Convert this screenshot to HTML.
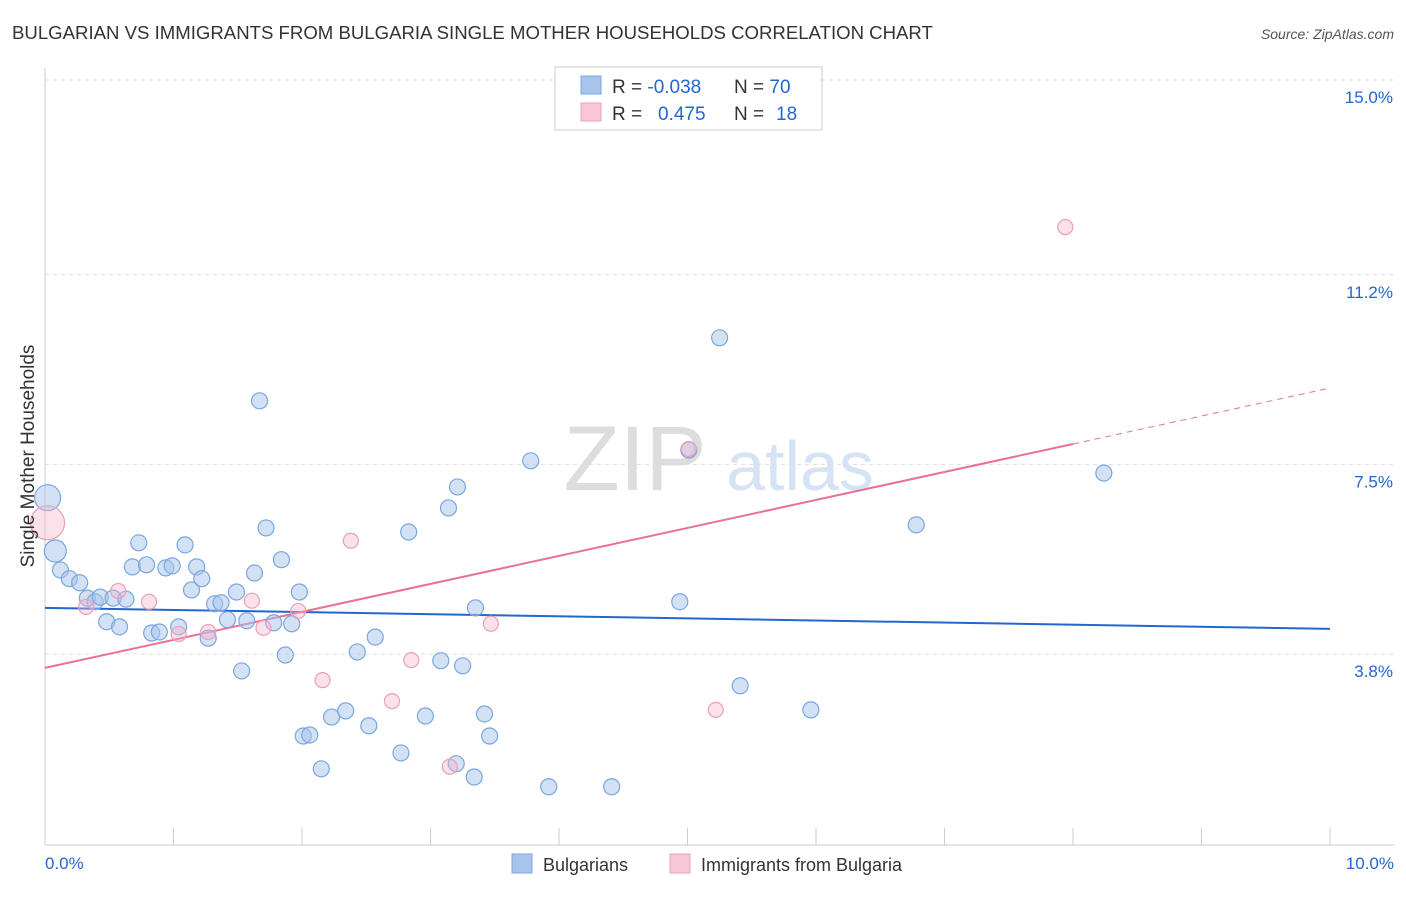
<!DOCTYPE html>
<html><head><meta charset="utf-8"><style>
body{margin:0;background:#fff;font-family:"Liberation Sans",sans-serif;}
svg text{font-family:"Liberation Sans",sans-serif;}
</style></head><body>
<svg id="chart" width="1406" height="892" viewBox="0 0 1406 892">
<text x="12" y="39" font-size="18.6" fill="#333">BULGARIAN VS IMMIGRANTS FROM BULGARIA SINGLE MOTHER HOUSEHOLDS CORRELATION CHART</text>
<text x="1394" y="39" font-size="14" font-style="italic" fill="#555" text-anchor="end">Source: ZipAtlas.com</text>
<text x="635" y="490" font-size="92" fill="#ddd" font-family="Liberation Serif" text-anchor="middle">ZIP</text>
<text x="800" y="490" font-size="70" fill="#d5e3f5" text-anchor="middle">atlas</text>
<g id="grid"></g><g id="axes"></g><g id="trend"></g><g id="points"></g>
<text transform="translate(34,456) rotate(-90)" font-size="19" fill="#333" text-anchor="middle">Single Mother Households</text>
<g>
<rect x="555" y="67" width="267" height="63" fill="#fff" stroke="#ccc"/>
<rect x="581" y="76" width="20" height="18" fill="#a8c4ec" stroke="#7aa6e0"/>
<rect x="581" y="103" width="20" height="18" fill="#f8c6d6" stroke="#eaa0b8"/>
<text x="612" y="93" font-size="19" fill="#333">R = <tspan fill="#2266d0">-0.038</tspan><tspan x="734">N = </tspan><tspan fill="#2266d0">70</tspan></text>
<text x="612" y="120" font-size="19" fill="#333">R = <tspan x="658" fill="#2266d0">0.475</tspan><tspan x="734">N = </tspan><tspan x="776" fill="#2266d0">18</tspan></text>
</g>
<g>
<rect x="512" y="854" width="20" height="19" fill="#a8c4ec" stroke="#7aa6e0"/>
<text x="543" y="871" font-size="18" fill="#333">Bulgarians</text>
<rect x="670" y="854" width="20" height="19" fill="#f8c6d6" stroke="#eaa0b8"/>
<text x="701" y="871" font-size="18" fill="#333">Immigrants from Bulgaria</text>
</g>
</svg>
<script>
const yTicks=[15.0,11.2,7.5,3.8];
const yTickLabels=["15.0%","11.2%","7.5%","3.8%"];
const xTicks=[0,1,2,3,4,5,6,7,8,9,10];
const xTickLabels=["0.0%","10.0%"];
const blueX=[0.02,0.08,0.12,0.19,0.27,0.33,0.39,0.43,0.48,0.53,0.58,0.63,0.73,0.68,0.79,0.83,0.89,0.94,0.99,1.04,1.09,1.14,1.18,1.22,1.27,1.32,1.37,1.42,1.49,1.53,1.57,1.63,1.67,1.72,1.78,1.84,1.87,1.92,1.98,2.01,2.06,2.15,2.23,2.34,2.43,2.52,2.57,2.77,2.83,2.96,3.08,3.14,3.20,3.21,3.25,3.34,3.35,3.42,3.46,3.78,3.92,4.41,4.94,5.25,5.41,5.96,6.78,8.24,5.01];
const blueY=[6.85,5.81,5.44,5.27,5.19,4.89,4.82,4.91,4.43,4.89,4.33,4.87,5.97,5.50,5.54,4.21,4.23,5.48,5.52,4.33,5.93,5.05,5.50,5.27,4.11,4.78,4.80,4.47,5.01,3.47,4.45,5.38,8.74,6.26,4.41,5.64,3.78,4.39,5.01,2.20,2.22,1.56,2.57,2.69,3.84,2.40,4.13,1.87,6.18,2.59,3.67,6.65,1.66,7.06,3.57,1.40,4.70,2.63,2.20,7.57,1.21,1.21,4.82,9.97,3.18,2.71,6.32,7.33,7.78];
const pinkX=[0.02,0.32,0.57,0.81,1.04,1.27,1.61,1.70,1.97,2.16,2.38,2.70,2.85,3.15,3.47,5.01,5.22,7.94];
const pinkY=[6.36,4.72,5.03,4.82,4.19,4.23,4.84,4.31,4.64,3.29,6.01,2.88,3.68,1.60,4.39,7.80,2.71,12.13];
const blueTrend=[4.70,4.29];
const pinkTrend=[3.53,8.99];
const pinkSolidEnd=8.0;
const NS="http://www.w3.org/2000/svg";
const x=v=>45+v*128.5;
const y=v=>80+(15-v)*51.25;
function mk(tag,parent,attrs){const e=document.createElementNS(NS,tag);for(const k in attrs)e.setAttribute(k,attrs[k]);parent.appendChild(e);return e;}
const grid=document.getElementById('grid'),axes=document.getElementById('axes'),trend=document.getElementById('trend'),pts=document.getElementById('points');
yTicks.forEach((t,i)=>{
 const l=mk('line',grid,{x1:45,x2:1394,y1:y(t),y2:y(t),stroke:'#ddd','stroke-dasharray':'4,4'});
 
 
 const tx=mk('text',grid,{x:1393,y:y(t)+23,'font-size':17,fill:'#2266d0','text-anchor':'end'});
 tx.textContent=yTickLabels[i];
 
 
});
const al=mk('line',axes,{x1:45,x2:1394,y1:845,y2:845,stroke:'#ccc'});


const yl=mk('line',axes,{x1:45,x2:45,y1:68,y2:845,stroke:'#ccc'});


xTicks.forEach(t=>{
 const l=mk('line',axes,{x1:x(t),x2:x(t),y1:828,y2:845,stroke:'#ccc'});
 
 
});
const xl0=mk('text',axes,{x:45,y:869,'font-size':17,fill:'#2266d0'});
xl0.textContent=xTickLabels[0];


const xl1=mk('text',axes,{x:1394,y:869,'font-size':17,fill:'#2266d0','text-anchor':'end'});
xl1.textContent=xTickLabels[1];


const pAt=v=>pinkTrend[0]+(pinkTrend[1]-pinkTrend[0])*v/10;
const bl=mk('line',trend,{x1:x(0),y1:y(blueTrend[0]),x2:x(10),y2:y(blueTrend[1]),stroke:'#2266d0','stroke-width':2});


const pl=mk('line',trend,{x1:x(0),y1:y(pAt(0)),x2:x(pinkSolidEnd),y2:y(pAt(pinkSolidEnd)),stroke:'#e8709a','stroke-width':2});


const pd=mk('line',trend,{x1:x(pinkSolidEnd),y1:y(pAt(pinkSolidEnd)),x2:x(10),y2:y(pAt(10)),stroke:'#e8709a','stroke-width':1,'stroke-dasharray':'6,5'});


blueX.forEach((v,i)=>{
 const r=i===0?13:(i===1?11:8);
 const c=mk('circle',pts,{cx:x(v),cy:y(blueY[i]),r:r,fill:'rgba(168,196,236,0.5)',stroke:'#7aa6e0','stroke-width':1.2});
 
 
});
pinkX.forEach((v,i)=>{
 const r=i===0?17:7.5;
 const c=mk('circle',pts,{cx:x(v),cy:y(pinkY[i]),r:r,fill:'rgba(245,180,200,0.4)',stroke:'#eaa0b8','stroke-width':1.2});
 
 
});
</script>
</body></html>
